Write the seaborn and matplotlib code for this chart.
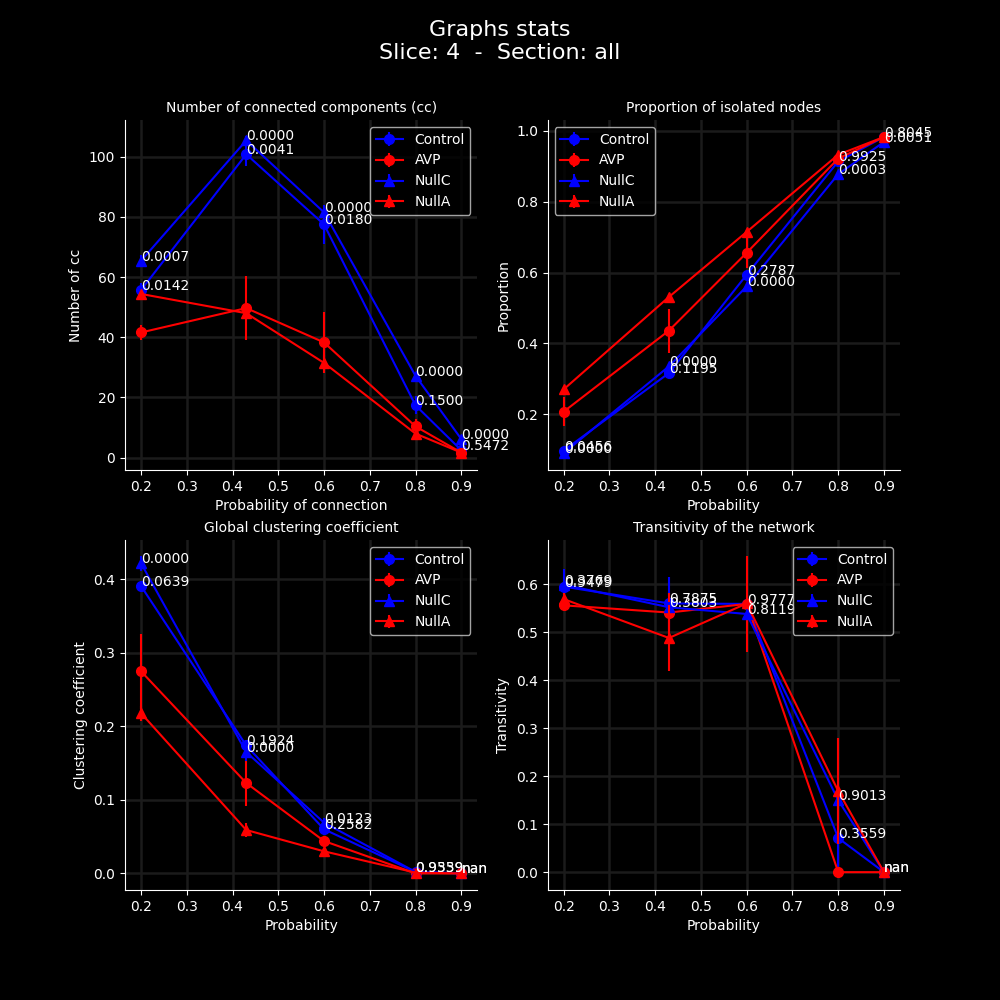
import numpy as np
import matplotlib
matplotlib.use("Agg")
import matplotlib.pyplot as plt
import seaborn as sns

# probabilities of connection (x axis)
probs = [0.2, 0.43, 0.6, 0.8, 0.9]
groups = ["Control", "AVP", "NullC", "NullA"]
colors = {"Control": "blue", "AVP": "red", "NullC": "blue", "NullA": "red"}
markers = {"Control": "o", "AVP": "o", "NullC": "^", "NullA": "^"}

# --- number of connected components
cc_mean = {
    "Control": [55.7, 100.8, 77.5, 17.4, 2.5],
    "AVP": [41.6, 49.7, 38.3, 10.4, 1.7],
    "NullC": [65.4, 105.4, 81.5, 27.2, 6.2],
    "NullA": [54.4, 48.0, 31.5, 8.0, 1.7],
}
cc_err = {
    "Control": [2.5, 4.0, 6.5, 3.0, 0.5],
    "AVP": [2.5, 10.5, 10.0, 2.5, 0.5],
    "NullC": [2.0, 1.5, 1.5, 1.0, 0.5],
    "NullA": [1.0, 1.5, 2.5, 1.0, 0.3],
}
cc_p_ctrl = ["0.0142", "0.0041", "0.0180", "0.1500", "0.5472"]
cc_p_null = ["0.0007", "0.0000", "0.0000", "0.0000", "0.0000"]

# --- proportion of isolated nodes
iso_mean = {
    "Control": [0.097, 0.316, 0.594, 0.914, 0.983],
    "AVP": [0.207, 0.436, 0.656, 0.922, 0.983],
    "NullC": [0.090, 0.335, 0.561, 0.878, 0.969],
    "NullA": [0.270, 0.531, 0.715, 0.933, 0.983],
}
iso_err = {
    "Control": [0.005, 0.01, 0.01, 0.005, 0.003],
    "AVP": [0.04, 0.062, 0.042, 0.008, 0.003],
    "NullC": [0.003, 0.003, 0.003, 0.003, 0.002],
    "NullA": [0.003, 0.003, 0.004, 0.003, 0.002],
}
iso_p_ctrl = ["0.0456", "0.1195", "0.2787", "0.9925", "0.8045"]
iso_p_null = ["0.0000", "0.0000", "0.0000", "0.0003", "0.0051"]

# --- global clustering coefficient
clu_mean = {
    "Control": [0.391, 0.174, 0.060, 0.002, 0.0],
    "AVP": [0.275, 0.123, 0.044, 0.0, 0.0],
    "NullC": [0.422, 0.165, 0.069, 0.002, 0.0],
    "NullA": [0.218, 0.059, 0.030, 0.001, 0.0],
}
clu_err = {
    "Control": [0.006, 0.006, 0.004, 0.001, 0.0],
    "AVP": [0.051, 0.031, 0.005, 0.001, 0.0],
    "NullC": [0.01, 0.012, 0.006, 0.001, 0.0],
    "NullA": [0.01, 0.01, 0.003, 0.001, 0.0],
}
clu_p_ctrl = ["0.0639", "0.1924", "0.2582", "0.9559", "nan"]
clu_p_null = ["0.0000", "0.0000", "0.0123", "0.9339", "nan"]

# --- transitivity
tra_mean = {
    "Control": [0.595, 0.560, 0.559, 0.071, 0.0],
    "AVP": [0.556, 0.541, 0.559, 0.0, 0.0],
    "NullC": [0.599, 0.552, 0.538, 0.150, 0.0],
    "NullA": [0.569, 0.488, 0.560, 0.169, 0.0],
}
tra_err = {
    "Control": [0.036, 0.056, 0.01, 0.075, 0.0],
    "AVP": [0.01, 0.04, 0.1, 0.0, 0.0],
    "NullC": [0.01, 0.01, 0.01, 0.02, 0.0],
    "NullA": [0.012, 0.069, 0.01, 0.11, 0.0],
}
tra_p_ctrl = ["0.9479", "0.7875", "0.9777", "0.3559", "nan"]
tra_p_null = ["0.3769", "0.3803", "0.8119", "0.9013", "nan"]

panels = [
    ("Number of connected components (cc)", "Probability of connection", "Number of cc",
     cc_mean, cc_err, cc_p_ctrl, cc_p_null, "upper right"),
    ("Proportion of isolated nodes", "Probability", "Proportion",
     iso_mean, iso_err, iso_p_ctrl, iso_p_null, "upper left"),
    ("Global clustering coefficient", "Probability", "Clustering coefficient",
     clu_mean, clu_err, clu_p_ctrl, clu_p_null, "upper right"),
    ("Transitivity of the network", "Probability", "Transitivity",
     tra_mean, tra_err, tra_p_ctrl, tra_p_null, "upper right"),
]

plt.style.use("dark_background")
fig, axes = plt.subplots(2, 2, figsize=(10, 10), dpi=100)
fig.suptitle("Graphs stats\nSlice: 4  -  Section: all", fontsize=16)

for ax, (title, xlabel, ylabel, means, errs, p_ctrl, p_null, loc) in zip(axes.flat, panels):
    handles = []
    for g in groups:
        sns.lineplot(x=probs, y=means[g], ax=ax, color=colors[g], marker=markers[g],
                     markersize=7, markeredgecolor=colors[g], markeredgewidth=1,
                     linewidth=1.5, legend=False)
        line = ax.lines[-1]
        eb = ax.errorbar(probs, means[g], yerr=errs[g], fmt="none",
                         ecolor=colors[g], elinewidth=1.5)
        handles.append((line, eb))

    # p-values written next to the Control and NullC points
    for i, x in enumerate(probs):
        ax.annotate(p_ctrl[i], (x, means["Control"][i]), color="white", fontsize=10)
        ax.annotate(p_null[i], (x, means["NullC"][i]), color="white", fontsize=10)

    ax.set_title(title, fontsize=10)
    ax.set_xlabel(xlabel)
    ax.set_ylabel(ylabel)
    ax.set_xticks([0.2, 0.3, 0.4, 0.5, 0.6, 0.7, 0.8, 0.9])
    ax.grid(True, color="#1b1b1b", linewidth=1.8)
    ax.set_axisbelow(True)
    ax.legend(handles, groups, loc=loc)
    sns.despine(ax=ax)

plt.savefig("out.png", dpi=100)
